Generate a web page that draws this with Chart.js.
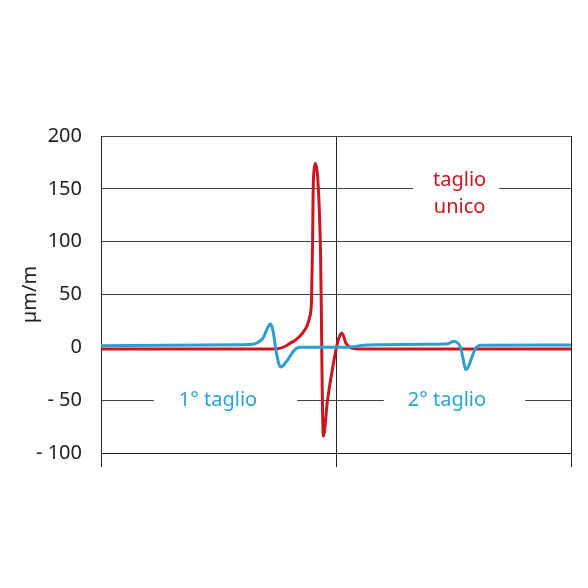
<!DOCTYPE html>
<html><head><meta charset="utf-8">
<script src="https://cdn.jsdelivr.net/npm/chart.js@4"></script>
<style>html,body{margin:0;padding:0;background:#fff}</style>
</head><body>
<canvas id="c" width="588" height="588"></canvas>
<script>
// ---- data ----
const yTicks = [200, 150, 100, 50, 0, -50, -100];
const yTickLabels = ['200', '150', '100', '50', '0', '- 50', '- 100'];
const yTitle = 'µm/m';

const redX = [0, 30, 36, 38, 39.2, 40.3, 41.4, 42.4, 43.3, 43.9, 44.3, 44.6, 44.8, 45.0, 45.15, 45.4, 45.6, 45.85, 46.1, 46.7, 46.9, 47.05, 47.3, 48.2, 49.3, 50.3, 50.8, 51.2, 51.6, 52.0, 52.7, 53.5, 55, 100];
const redY = [-1.5, -1.5, -1.5, -1, 1, 4, 7, 11, 16, 21, 27, 33, 45, 95, 150, 170, 174, 170, 161, 92, 29, -34, -84, -50, -19, 4, 11, 13.5, 11, 5, 1, -1, -1.5, -1.5];

const blueX = [0, 30, 32.4, 33.5, 34.5, 35.4, 36.0, 36.4, 36.7, 37.3, 37.8, 38.2, 38.8, 39.7, 40.9, 41.6, 42.4, 46, 50, 53.7, 55.9, 60, 70, 73.8, 75.0, 75.6, 76.5, 77.0, 77.6, 78.2, 78.7, 79.7, 80.8, 100];
const blueY = [1.5, 2.5, 3, 5, 9, 18, 22, 19, 13, -5, -15, -18.5, -17, -12, -4, -1, 0, 0, 0, 0.5, 2, 2.5, 3, 3.5, 5.5, 5, 0, -10, -21, -18, -12, -1, 2, 2.2];

const noteTexts = [['taglio', 'unico'], ['1° taglio'], ['2° taglio']];
const noteX = [76.3, 24.9, 73.6];
const noteY = [150, -50, -50];

// ---- drawing ----
const RED = '#cc1520';
const BLUE = '#2a9fd0';
const FONT = '"Noto Sans", "Open Sans", sans-serif';

const notesPlugin = {
  id: 'notes',
  beforeDatasetsDraw(chart) {
    const ctx = chart.ctx;
    const xs = chart.scales.x, ys = chart.scales.y;
    const styles = [
      {color: RED, padL: 20, padR: 13, top: -16, bottom: 26, base: -3, lh: 27},
      {color: '#2aa3d2', padL: 25, padR: 40, top: -14, bottom: 14, base: 6, lh: 27},
      {color: '#2aa3d2', padL: 24, padR: 39, top: -14, bottom: 14, base: 6, lh: 27}
    ];
    ctx.save();
    ctx.font = '20px ' + FONT;
    noteTexts.forEach((lines, i) => {
      const s = styles[i];
      const cx = xs.getPixelForValue(noteX[i]);
      const cy = ys.getPixelForValue(noteY[i]);
      const w = Math.max(...lines.map(l => ctx.measureText(l).width));
      ctx.fillStyle = '#fff';
      ctx.fillRect(cx - w / 2 - s.padL, cy + s.top, w + s.padL + s.padR, s.bottom - s.top);
      ctx.fillStyle = s.color;
      ctx.textAlign = 'center';
      ctx.textBaseline = 'alphabetic';
      lines.forEach((l, j) => ctx.fillText(l, cx, cy + s.base + j * s.lh));
    });
    ctx.restore();
  }
};

new Chart(document.getElementById('c'), {
  type: 'line',
  data: {
    datasets: [
      {label: '1° / 2° taglio', data: blueX.map((x, i) => ({x, y: blueY[i]})), borderColor: BLUE, borderWidth: 3, pointRadius: 0, cubicInterpolationMode: 'monotone', fill: false, order: 0},
      {label: 'taglio unico', data: redX.map((x, i) => ({x, y: redY[i]})), borderColor: RED, borderWidth: 3, pointRadius: 0, cubicInterpolationMode: 'monotone', fill: false, order: 1}
    ]
  },
  options: {
    responsive: false,
    animation: false,
    layout: {padding: {top: 136, right: 17, left: 0, bottom: 0}},
    plugins: {legend: {display: false}, tooltip: {enabled: false}},
    scales: {
      x: {
        type: 'linear', min: 0, max: 100,
        ticks: {display: false, stepSize: 50},
        grid: {color: '#222', lineWidth: 1, drawTicks: true, tickLength: 14},
        border: {display: true, color: '#222', width: 1},
        afterFit(s) { s.height = 135; }
      },
      y: {
        min: -100, max: 200,
        afterBuildTicks(s) { s.ticks = yTicks.map(v => ({value: v})); },
        ticks: {
          padding: 19, color: '#222',
          font: {family: FONT, size: 20},
          callback: (v) => { const i = yTicks.indexOf(v); return i >= 0 ? yTickLabels[i] : ''; }
        },
        grid: {drawTicks: false, lineWidth: 1, color: (c) => c.tick && c.tick.value === 0 ? 'rgba(0,0,0,0)' : '#444'},
        border: {display: true, color: '#222', width: 1},
        title: {display: true, text: yTitle, color: '#222', font: {family: FONT, size: 20}, padding: {top: 18, bottom: 0}},
        afterFit(s) { s.width = 101; }
      }
    }
  },
  plugins: [notesPlugin]
});
</script>
</body></html>
